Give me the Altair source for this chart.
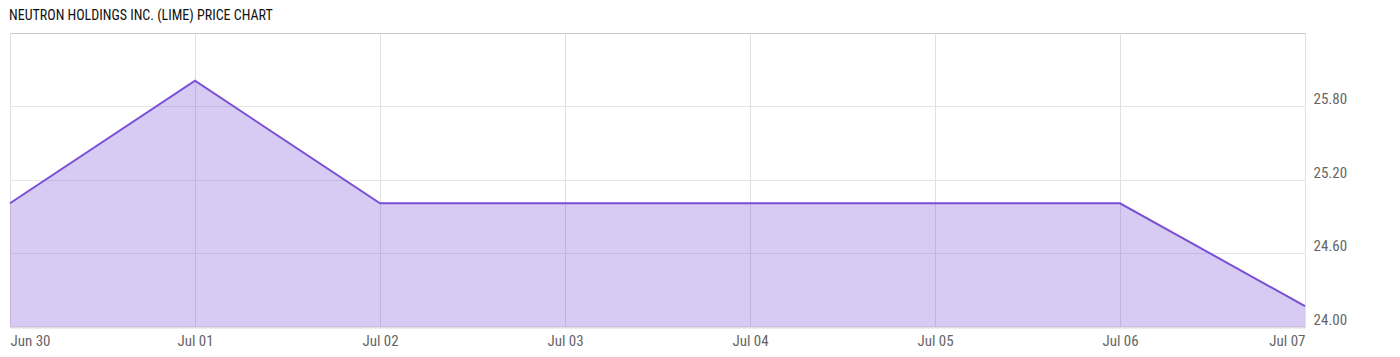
import altair as alt
import pandas as pd

dates = ["2021-06-30", "2021-07-01", "2021-07-02", "2021-07-03",
         "2021-07-04", "2021-07-05", "2021-07-06", "2021-07-07"]
prices = [25.01, 26.01, 25.01, 25.01, 25.01, 25.01, 25.01, 24.17]
y_ticks = [24.0, 24.6, 25.2, 25.8]

df = pd.DataFrame({"date": dates, "price": prices})

FONT = "Roboto Condensed, Liberation Sans Narrow, Roboto"

x = alt.X("date:T", title=None,
          scale=alt.Scale(type="utc", nice=False),
          axis=alt.Axis(format="%b %d", formatType="time",
                        tickCount={"interval": "day", "step": 1},
                        labelFlush=True, ticks=False, domain=True,
                        domainColor="#dddddd", domainWidth=2,
                        grid=True, gridColor="#e0e0e0",
                        labelFont=FONT, labelFontSize=15, labelColor="#666666",
                        labelPadding=6))
y = alt.Y("price:Q", title=None,
          scale=alt.Scale(domain=[24.0, 26.4], nice=False, zero=False),
          axis=alt.Axis(orient="right", values=y_ticks, format=".2f",
                        ticks=False, domain=False, grid=True, gridColor="#e6e6e6",
                        labelFont=FONT, labelFontSize=15, labelColor="#666666",
                        labelPadding=8, labelBaseline="bottom"))

area = alt.Chart(df).mark_area(color="#7a4fd6", opacity=0.3, clip=True).encode(x=x, y=y)
line = alt.Chart(df).mark_line(color="#7a4fd6", strokeWidth=2).encode(x=x, y=y)

chart = (area + line).properties(
    width=1295, height=294,
    title=alt.TitleParams("NEUTRON HOLDINGS INC. (LIME) PRICE CHART",
                          anchor="start", font=FONT, fontSize=14,
                          fontWeight="normal", color="#111111", offset=10, dx=3),
    autosize=alt.AutoSizeParams(type="none"),
    padding={"left": 10, "top": 33, "right": 95, "bottom": 30},
).configure_view(stroke="#cccccc", strokeWidth=1)

chart.save("out.html", embed_options={"renderer": "svg", "actions": False})
